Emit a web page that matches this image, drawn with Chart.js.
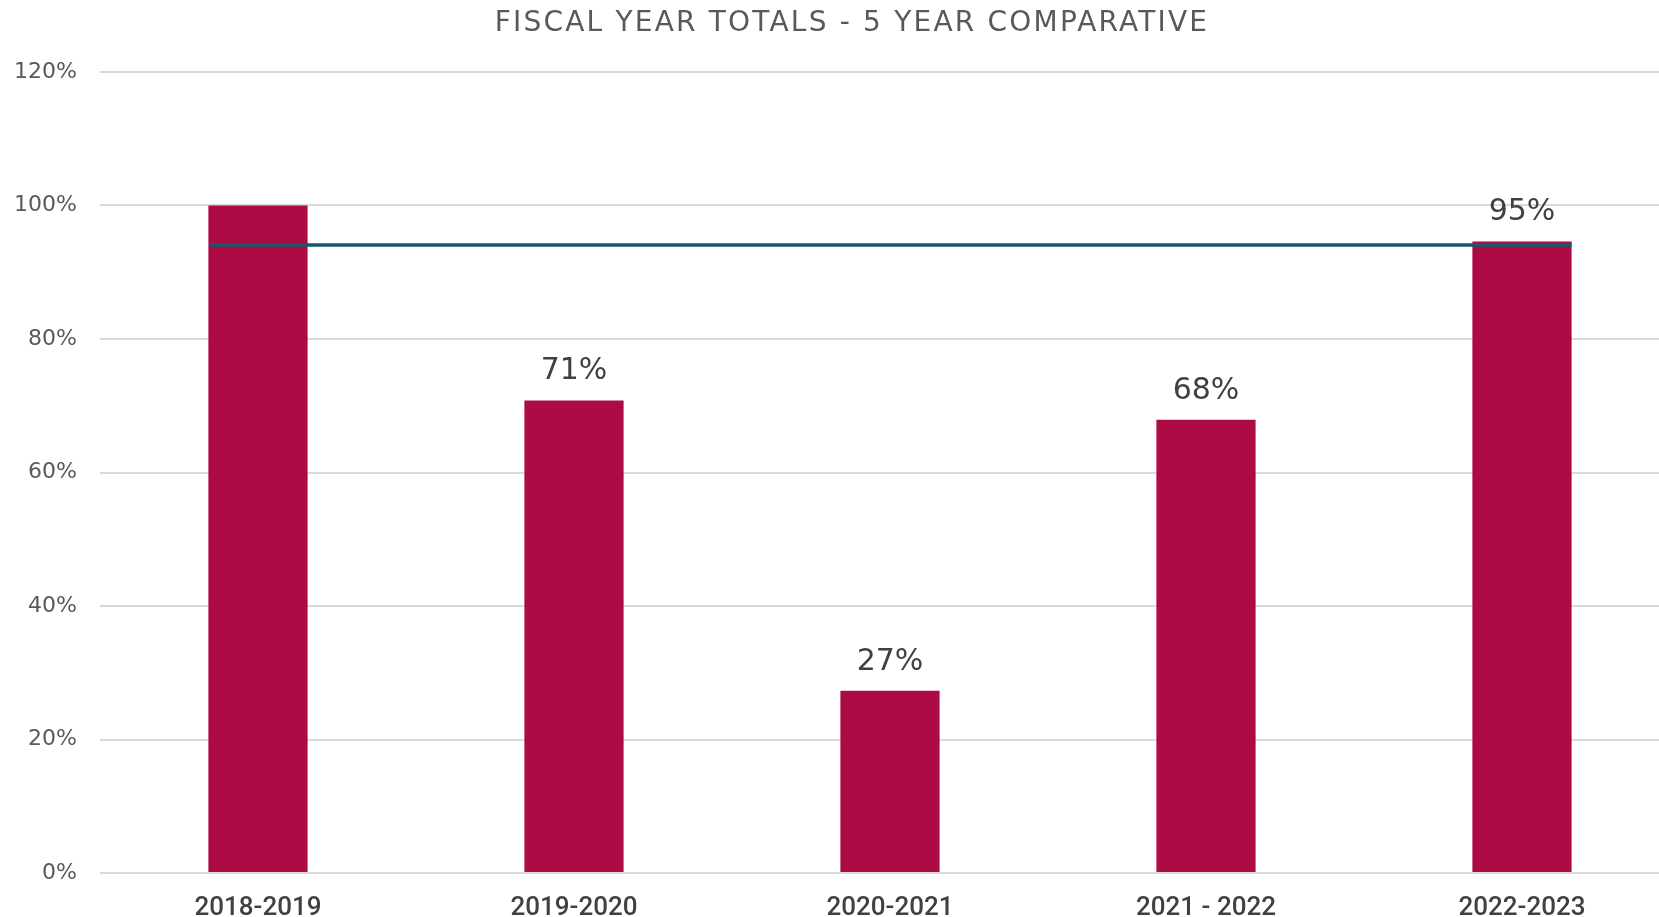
<!DOCTYPE html>
<html>
<head>
<meta charset="utf-8">
<script src="https://cdn.jsdelivr.net/npm/chart.js@4.4.1/dist/chart.umd.min.js"></script>
<style>
  html, body { margin: 0; padding: 0; background: #fff; overflow: hidden; }
  #wrap { position: absolute; left: 0; top: 0; width: 1704px; height: 917px; }
</style>
</head>
<body>
<div id="wrap"><canvas id="fyChart" width="1704" height="917"></canvas></div>
<script>
const fiscalYears = ['2018-2019', '2019-2020', '2020-2021', '2021 - 2022', '2022-2023'];
const totals = [100, 70.8, 27.3, 67.9, 94.6];
const valueLabels = ['', '71%', '27%', '68%', '95%'];
const targetLevel = 94.1;
const yTicks = [0, 20, 40, 60, 80, 100, 120];
const chartTitle = 'FISCAL YEAR TOTALS - 5 YEAR COMPARATIVE';

const fontFamily = "'DejaVu Sans', sans-serif";

// title drawn by hand so it can be letter-spaced (the original font is wider)
const spacedTitle = {
  id: 'spacedTitle',
  afterDraw(chart) {
    const ctx = chart.ctx;
    ctx.save();
    ctx.fillStyle = '#595959';
    ctx.font = '28px ' + fontFamily;
    ctx.letterSpacing = '2.2px';
    ctx.textAlign = 'center';
    ctx.textBaseline = 'middle';
    ctx.fillText(chartTitle, chart.width / 2, 24);
    ctx.restore();
  }
};

// labels above the bars
const barLabels = {
  id: 'barLabels',
  afterDatasetsDraw(chart) {
    const ctx = chart.ctx;
    const meta = chart.getDatasetMeta(0);
    ctx.save();
    ctx.fillStyle = '#404040';
    ctx.font = '30px ' + fontFamily;
    ctx.textAlign = 'center';
    ctx.textBaseline = 'middle';
    meta.data.forEach(function (bar, i) {
      if (!valueLabels[i]) return;
      ctx.fillText(valueLabels[i], bar.x, bar.y - 29);
    });
    ctx.restore();
  }
};

// target line from the left edge of the first bar to the right edge of the last one
const targetLine = {
  id: 'targetLine',
  afterDatasetsDraw(chart) {
    const bars = chart.getDatasetMeta(0).data;
    if (!bars.length) return;
    const first = bars[0], last = bars[bars.length - 1];
    const y = chart.scales.y.getPixelForValue(targetLevel);
    const ctx = chart.ctx;
    ctx.save();
    ctx.strokeStyle = '#145a6a';
    ctx.lineWidth = 3.5;
    ctx.beginPath();
    ctx.moveTo(first.x - first.width / 2 + 2, y);
    ctx.lineTo(last.x + last.width / 2, y);
    ctx.stroke();
    ctx.restore();
  }
};

new Chart(document.getElementById('fyChart').getContext('2d'), {
  type: 'bar',
  data: {
    labels: fiscalYears,
    datasets: [{
      data: totals,
      backgroundColor: '#ad0b45',
      categoryPercentage: 1,
      barPercentage: 0.314
    }]
  },
  options: {
    responsive: false,
    animation: false,
    layout: { padding: { left: 0, right: 24, top: 72, bottom: 0 } },
    plugins: {
      legend: { display: false },
      tooltip: { enabled: false },
      title: { display: false }
    },
    scales: {
      x: {
        grid: { display: false },
        border: { display: false },
        ticks: {
          color: '#404040',
          font: { family: "Roboto, sans-serif", size: 26, weight: '500' },
          padding: 12,
          maxRotation: 0
        },
        afterFit: function (scale) { scale.height = 44; }
      },
      y: {
        min: 0,
        max: 120,
        afterBuildTicks: function (scale) {
          scale.ticks = yTicks.map(function (v) { return { value: v }; });
        },
        grid: { color: '#d9d9d9', lineWidth: 2, drawTicks: false },
        border: { display: false },
        ticks: {
          color: '#595959',
          font: { family: fontFamily, size: 22 },
          padding: 23,
          callback: function (v) { return v + '%'; }
        },
        afterFit: function (scale) { scale.width = 100; }
      }
    }
  },
  plugins: [barLabels, targetLine, spacedTitle]
});
</script>
</body>
</html>
